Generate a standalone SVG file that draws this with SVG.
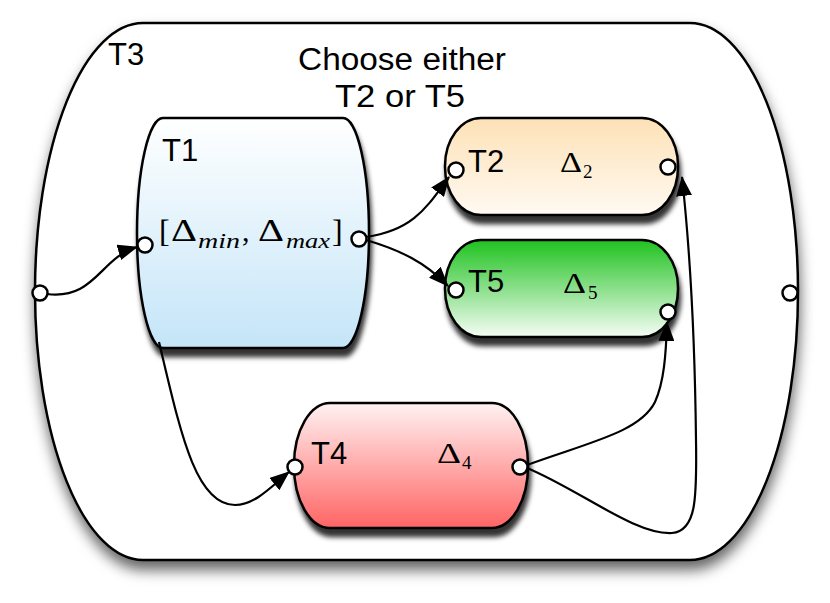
<svg xmlns="http://www.w3.org/2000/svg" width="830" height="603" viewBox="0 0 830 603">
<defs>
<style>
.ln{fill:none;stroke:#000;stroke-width:2.5}
.edge{fill:none;stroke:#000;stroke-width:2.2;marker-end:url(#arr)}
.port{fill:#fff;stroke:#000;stroke-width:2.5}
.lbl{font-family:"Liberation Sans",Arial,sans-serif;font-size:31px;fill:#000}
.m{font-family:"Liberation Serif","Times New Roman",serif;fill:#000}
.mi{font-family:"Liberation Serif","Times New Roman",serif;font-style:italic;fill:#000}
</style>
<marker id="arr" markerUnits="userSpaceOnUse" markerWidth="20" markerHeight="16" refX="19" refY="8" orient="auto">
<path d="M0,0 L20,8 L0,16 Z" fill="#000"/>
</marker>
<filter id="sh" x="-10%" y="-10%" width="125%" height="130%">
<feGaussianBlur in="SourceAlpha" stdDeviation="2.5"/>
<feOffset dx="2" dy="8" result="b"/>
<feFlood flood-color="#000" flood-opacity="0.8"/>
<feComposite in2="b" operator="in" result="s"/>
<feMerge><feMergeNode in="s"/><feMergeNode in="SourceGraphic"/></feMerge>
</filter>
<filter id="shOut" x="-10%" y="-10%" width="125%" height="125%">
<feGaussianBlur in="SourceAlpha" stdDeviation="7"/>
<feOffset dx="1" dy="9" result="b"/>
<feFlood flood-color="#000" flood-opacity="0.6"/>
<feComposite in2="b" operator="in" result="s"/>
<feMerge><feMergeNode in="s"/><feMergeNode in="SourceGraphic"/></feMerge>
</filter>
<linearGradient id="gT1" x1="0" y1="0" x2="0" y2="1"><stop offset="0" stop-color="#ffffff"/><stop offset="1" stop-color="#c4e5f8"/></linearGradient>
<linearGradient id="gT2" x1="0" y1="0" x2="0" y2="1"><stop offset="0" stop-color="#fde1b6"/><stop offset="1" stop-color="#fffaf2"/></linearGradient>
<linearGradient id="gT5" x1="0" y1="0" x2="0" y2="1"><stop offset="0" stop-color="#1fc21f"/><stop offset="1" stop-color="#f6fdf6"/></linearGradient>
<linearGradient id="gT4" x1="0" y1="0" x2="0" y2="1"><stop offset="0" stop-color="#fff2f2"/><stop offset="1" stop-color="#ff6464"/></linearGradient>
</defs>
<rect width="830" height="603" fill="#fff"/>

<g id="T3">
<path class="ln" style="fill:#fff" filter="url(#shOut)" d="M143,23 H690 A108,268.5 0 0 1 690,560 H143 A108,268.5 0 0 1 143,23 Z"/>
<text class="lbl" x="108" y="65">T3</text>
<text class="lbl" x="402" y="70" text-anchor="middle" textLength="208" lengthAdjust="spacingAndGlyphs">Choose either</text>
<text class="lbl" x="400" y="107" text-anchor="middle" textLength="130" lengthAdjust="spacingAndGlyphs">T2 or T5</text>
<circle class="port" cx="40" cy="293" r="7.5"/>
<circle class="port" cx="790" cy="293" r="7.5"/>
</g>

<g id="T1">
<path class="ln" style="fill:url(#gT1)" filter="url(#sh)" d="M163,118 H343 A26,115 0 0 1 343,348 H163 A26,115 0 0 1 163,118 Z"/>
<text class="lbl" x="162" y="161">T1</text>
<text class="m" x="159" y="242" font-size="32">[</text>
<text class="m" x="171" y="241" font-size="32" textLength="26" lengthAdjust="spacingAndGlyphs">Δ</text>
<text class="mi" x="198" y="248" font-size="22" textLength="42" lengthAdjust="spacingAndGlyphs">min</text>
<text class="m" x="242" y="241" font-size="30">,</text>
<text class="m" x="258" y="241" font-size="32" textLength="26" lengthAdjust="spacingAndGlyphs">Δ</text>
<text class="mi" x="286" y="248" font-size="22" textLength="44" lengthAdjust="spacingAndGlyphs">max</text>
<text class="m" x="332" y="242" font-size="32">]</text>
<circle class="port" cx="145" cy="245" r="7.5"/>
<circle class="port" cx="359" cy="239" r="7.5"/>
</g>

<g id="T2">
<rect class="ln" style="fill:url(#gT2)" filter="url(#sh)" x="445" y="118" width="233" height="97" rx="36" ry="48"/>
<text class="lbl" x="468" y="172">T2</text>
<text class="m" x="560" y="172" font-size="29" textLength="22" lengthAdjust="spacingAndGlyphs">Δ</text>
<text class="m" x="583" y="178" font-size="19">2</text>
<circle class="port" cx="456" cy="170" r="7.5"/>
<circle class="port" cx="668" cy="167" r="7.5"/>
</g>

<g id="T5">
<rect class="ln" style="fill:url(#gT5)" filter="url(#sh)" x="445" y="240" width="233" height="97" rx="36" ry="48"/>
<text class="lbl" x="468" y="292">T5</text>
<text class="m" x="563" y="293" font-size="29" textLength="23" lengthAdjust="spacingAndGlyphs">Δ</text>
<text class="m" x="588" y="299" font-size="19">5</text>
<circle class="port" cx="456" cy="290" r="7.5"/>
<circle class="port" cx="668" cy="312" r="7.5"/>
</g>

<g id="T4">
<rect class="ln" style="fill:url(#gT4)" filter="url(#sh)" x="294" y="403" width="234" height="125" rx="36" ry="62"/>
<text class="lbl" x="311" y="464">T4</text>
<text class="m" x="437" y="463" font-size="29" textLength="24" lengthAdjust="spacingAndGlyphs">Δ</text>
<text class="m" x="462" y="469" font-size="19">4</text>
<circle class="port" cx="295" cy="467" r="7.5"/>
<circle class="port" cx="520" cy="467" r="7.5"/>
</g>

<g id="connectors">
<path class="edge" d="M47,294 C95,300 100,258 137,247"/>
<path class="edge" d="M366,237 C415,230 428,205 449,177"/>
<path class="edge" d="M366,240 C400,250 425,262 448,286"/>
<path class="edge" d="M159,342 C180,430 195,505 235,505 C255,505 272,486 289,472"/>
<path class="edge" d="M527,465 C590,442 640,432 655,402 C664,382 666,355 667,322"/>
<path class="edge" d="M527,468 C580,490 635,535 672,533 C696,531 697,500 696,440 C695,350 690,250 682,177"/>
</g>
</svg>
